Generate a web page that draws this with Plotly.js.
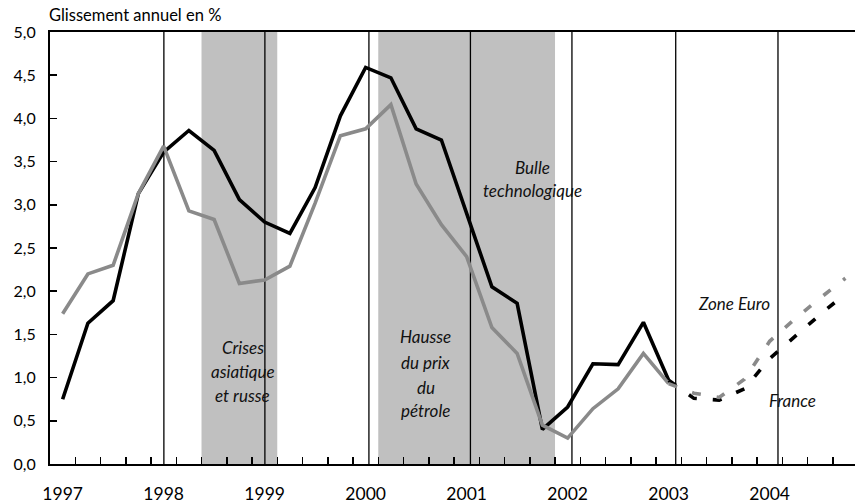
<!DOCTYPE html>
<html>
<head>
<meta charset="utf-8">
<script src="https://cdn.plot.ly/plotly-3.0.1.min.js"></script>
<style>
  html, body { margin: 0; padding: 0; background: #ffffff; }
  #chart { width: 855px; height: 504px; }
</style>
</head>
<body>
<div id="chart"></div>
<script>
// Quarterly categories, 1997T1 .. 2004T4
const quarters = [
  "1997T1","1997T2","1997T3","1997T4",
  "1998T1","1998T2","1998T3","1998T4",
  "1999T1","1999T2","1999T3","1999T4",
  "2000T1","2000T2","2000T3","2000T4",
  "2001T1","2001T2","2001T3","2001T4",
  "2002T1","2002T2","2002T3","2002T4",
  "2003T1","2003T2","2003T3","2003T4",
  "2004T1","2004T2","2004T3","2004T4"
];
// Year tick labels (placed on each year's first quarter)
const yearLabels = ["1997","1998","1999","2000","2001","2002","2003","2004"];

// France (black), glissement annuel en %
const france = [
  0.75, 1.63, 1.89, 3.13,
  3.61, 3.86, 3.63, 3.06,
  2.80, 2.67, 3.20, 4.03,
  4.59, 4.47, 3.88, 3.75,
  2.90, 2.05, 1.86, 0.40,
  0.66, 1.16, 1.15, 1.64,
  0.97, 0.76, 0.74, 0.87,
  1.22, 1.48, 1.73, 1.97
];
// Zone Euro (grey)
const zoneEuro = [
  1.74, 2.20, 2.30, 3.13,
  3.68, 2.93, 2.83, 2.09,
  2.13, 2.29, 3.02, 3.80,
  3.88, 4.16, 3.24, 2.77,
  2.40, 1.58, 1.28, 0.45,
  0.30, 0.64, 0.87, 1.28,
  0.93, 0.82, 0.77, 0.98,
  1.42, 1.68, 1.92, 2.15
];
// Last observed quarter (2003T1); forecasts follow
const lastObserved = 24;

// Shaded episodes (quarter boundaries)
const episodes = [
  { from: 5.5, to: 8.5 },
  { from: 12.5, to: 19.5 }
];
// Year separator lines
const yearLines = [4.01, 8.01, 12.13, 16.15, 20.17, 24.28, 28.33];

const idx = quarters.map((q, i) => i);
const obsX = idx.slice(0, lastObserved + 1);
const fcX = idx.slice(lastObserved);

const BLACK = "#000000";
const GREY = "#8a8a8a";
const SHADE = "#c0c0c0";
const FONT = "Lato, 'Open Sans', sans-serif";

const traces = [
  { x: obsX, y: france.slice(0, lastObserved + 1), type: "scatter", mode: "lines",
    line: { color: BLACK, width: 3.6 }, name: "France", hoverinfo: "skip" },
  { x: obsX, y: zoneEuro.slice(0, lastObserved + 1), type: "scatter", mode: "lines",
    line: { color: GREY, width: 3.6 }, name: "Zone Euro", hoverinfo: "skip" },
  { x: fcX, y: france.slice(lastObserved), type: "scatter", mode: "lines",
    line: { color: BLACK, width: 3.6, dash: "9px,16px" }, name: "France (prévision)", hoverinfo: "skip" },
  { x: fcX, y: zoneEuro.slice(lastObserved), type: "scatter", mode: "lines",
    line: { color: GREY, width: 3.6, dash: "9px,16px" }, name: "Zone Euro (prévision)", hoverinfo: "skip" }
];

const shapes = [];
episodes.forEach(e => shapes.push({
  type: "rect", xref: "x", yref: "paper", x0: e.from, x1: e.to, y0: 0, y1: 1,
  fillcolor: SHADE, line: { width: 0 }, layer: "below"
}));
yearLines.forEach(v => shapes.push({
  type: "line", xref: "x", yref: "paper", x0: v, x1: v, y0: 0, y1: 1,
  line: { color: BLACK, width: 1.3 }, layer: "below"
}));

const italic = (text, x, y) => ({
  text: text, x: x, y: y, xref: "x", yref: "y", showarrow: false,
  xanchor: "center", yanchor: "middle",
  font: { family: FONT, size: 17, color: "#111111", style: "italic" }
});

const annotations = [
  italic("Crises", 7.14, 1.35),
  italic("asiatique", 7.14, 1.07),
  italic("et russe", 7.14, 0.79),
  italic("Hausse", 14.39, 1.47),
  italic("du prix", 14.39, 1.18),
  italic("du", 14.39, 0.89),
  italic("pétrole", 14.39, 0.62),
  italic("Bulle", 18.59, 3.43),
  italic("technologique", 18.59, 3.16),
  italic("Zone Euro", 26.59, 1.86),
  italic("France", 28.89, 0.74)
];

const minorTicks = [];
for (let i = 0; i < quarters.length; i++) minorTicks.push(i + 0.5);

const layout = {
  width: 855, height: 504,
  margin: { l: 50, r: 0, t: 32, b: 40, pad: 0 },
  paper_bgcolor: "#ffffff", plot_bgcolor: "#ffffff",
  showlegend: false,
  separators: ", ",
  font: { family: FONT, color: "#000000" },
  title: {
    text: "Glissement annuel en %",
    x: 49 / 855, xanchor: "left", xref: "container",
    y: 1 - 15 / 504, yanchor: "middle", yref: "container",
    font: { family: FONT, size: 16.5, color: "#000000" }
  },
  xaxis: {
    range: [-0.5, 31.38],
    tickmode: "array",
    tickvals: yearLabels.map((y, i) => i * 4),
    ticktext: yearLabels,
    ticks: "",
    ticklabelstandoff: 13,
    tickfont: { family: FONT, size: 17.5, color: "#000000" },
    minor: { tickmode: "array", tickvals: minorTicks, ticks: "inside", ticklen: 7,
             tickwidth: 1.5, tickcolor: BLACK, showgrid: false },
    showline: true, linecolor: BLACK, linewidth: 2, mirror: true,
    showgrid: false, zeroline: false, fixedrange: true
  },
  yaxis: {
    range: [0, 5], dtick: 0.5, tick0: 0, tickformat: ".1f",
    ticks: "inside", ticklen: 7, tickwidth: 1.5, tickcolor: BLACK,
    ticklabelstandoff: 9,
    tickfont: { family: FONT, size: 16, color: "#000000" },
    showline: true, linecolor: BLACK, linewidth: 2,
    showgrid: false, zeroline: false, fixedrange: true
  },
  shapes: shapes,
  annotations: annotations
};

Plotly.newPlot("chart", traces, layout, { staticPlot: true, displayModeBar: false });
</script>
</body>
</html>
